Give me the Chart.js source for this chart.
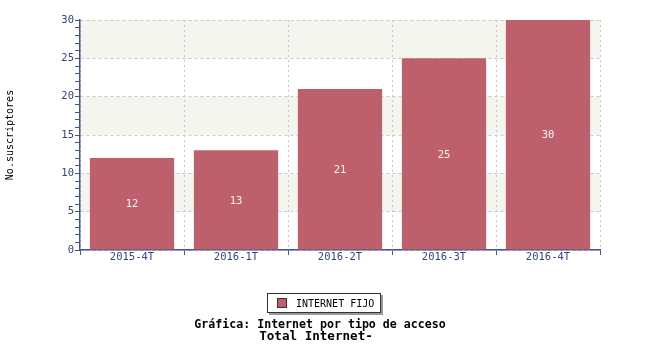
<!DOCTYPE html>
<html>
<head>
<meta charset="utf-8">
<script src="https://cdn.jsdelivr.net/npm/chart.js@4.4.1/dist/chart.umd.min.js"></script>
<style>
html,body{margin:0;padding:0;background:#fff;}
#wrap{width:650px;height:350px;position:relative;}
</style>
</head>
<body>
<div id="wrap"><canvas id="c" width="650" height="350"></canvas></div>
<script>
const categories = ['2015-4T', '2016-1T', '2016-2T', '2016-3T', '2016-4T'];
const internetFijo = [12, 13, 21, 25, 30];
const seriesName = 'INTERNET FIJO';
const yAxisTitle = 'No.suscriptores';
const titleLines = ['Gráfica: Internet por tipo de acceso', 'Total Internet-'];

const BAR = '#bd606b';
const AXIS = '#44548a';
const LABEL = '#334477';
const MONO = '"DejaVu Sans Mono", "Liberation Mono", monospace';

const bandsPlugin = {
  id: 'bands',
  beforeDraw(chart) {
    const {ctx, chartArea: a, scales: {y}} = chart;
    ctx.save();
    ctx.fillStyle = '#f5f5f0';
    for (let v = 5; v < 30; v += 10) {
      const top = y.getPixelForValue(v + 5), bot = y.getPixelForValue(v);
      ctx.fillRect(a.left, top, a.right - a.left, bot - top);
    }
    ctx.restore();
  }
};

const valueLabels = {
  id: 'valueLabels',
  afterDatasetsDraw(chart) {
    const {ctx} = chart;
    const meta = chart.getDatasetMeta(0);
    ctx.save();
    ctx.font = '10.5px ' + MONO;
    ctx.fillStyle = '#f4f4f4';
    ctx.textAlign = 'center';
    ctx.textBaseline = 'middle';
    meta.data.forEach((bar, i) => {
      ctx.fillText(String(chart.data.datasets[0].data[i]), bar.x, (bar.y + bar.base) / 2 + 1);
    });
    ctx.restore();
  }
};

const legendTitle = {
  id: 'legendTitle',
  afterDraw(chart) {
    const {ctx} = chart;
    ctx.save();
    ctx.fillStyle = '#999';
    ctx.fillRect(269, 295, 114, 20);
    ctx.fillStyle = '#fff';
    ctx.fillRect(267, 293, 114, 20);
    ctx.strokeStyle = '#333';
    ctx.lineWidth = 1;
    ctx.strokeRect(267.5, 293.5, 113, 19);
    ctx.fillStyle = BAR;
    ctx.fillRect(277, 298, 10, 10);
    ctx.strokeStyle = '#333';
    ctx.strokeRect(277.5, 298.5, 9, 9);
    ctx.fillStyle = '#000';
    ctx.font = '10px ' + MONO;
    ctx.textAlign = 'left';
    ctx.textBaseline = 'middle';
    ctx.fillText(chart.data.datasets[0].label, 296, 304);
    ctx.font = 'bold 11.6px ' + MONO;
    ctx.textAlign = 'center';
    ctx.fillText(titleLines[0], 320, 325);
    ctx.font = 'bold 12.6px ' + MONO;
    ctx.fillText(titleLines[1], 316, 337);
    ctx.restore();
  }
};

new Chart(document.getElementById('c'), {
  type: 'bar',
  data: {
    labels: categories,
    datasets: [{
      label: seriesName,
      data: internetFijo,
      backgroundColor: BAR,
      borderWidth: 0,
      barPercentage: 0.81,
      categoryPercentage: 1.0
    }]
  },
  options: {
    responsive: false,
    animation: false,
    events: [],
    layout: {padding: {top: 20, right: 50, left: 0, bottom: 0}},
    plugins: {legend: {display: false}, title: {display: false}, tooltip: {enabled: false}},
    scales: {
      x: {
        afterFit(s) { s.height = 100; },
        grid: {
          offset: true,
          color: '#c8c8c8',
          tickColor: AXIS,
          tickLength: 5,
          drawTicks: true
        },
        border: {display: true, color: AXIS, width: 1.5, dash: [2, 3]},
        ticks: {color: LABEL, font: {family: MONO, size: 10.5}, padding: -4, maxRotation: 0}
      },
      y: {
        min: 0, max: 30,
        afterFit(s) { s.width = 80; },
        title: {display: true, text: yAxisTitle, color: '#000', font: {family: MONO, size: 10}, padding: {top: 4, bottom: 0}},
        grid: {
          color: c => (c.tick && c.tick.value % 5 === 0) ? '#c8c8c8' : 'rgba(0,0,0,0)',
          tickColor: AXIS,
          tickLength: 5,
          drawTicks: true
        },
        border: {display: true, color: AXIS, width: 1.5, dash: [3, 3]},
        ticks: {
          stepSize: 1,
          autoSkip: false,
          color: LABEL,
          font: {family: MONO, size: 10.5},
          padding: 1,
          callback: v => (v % 5 === 0 ? String(v) : '')
        }
      }
    }
  },
  plugins: [bandsPlugin, valueLabels, legendTitle]
});
</script>
</body>
</html>
